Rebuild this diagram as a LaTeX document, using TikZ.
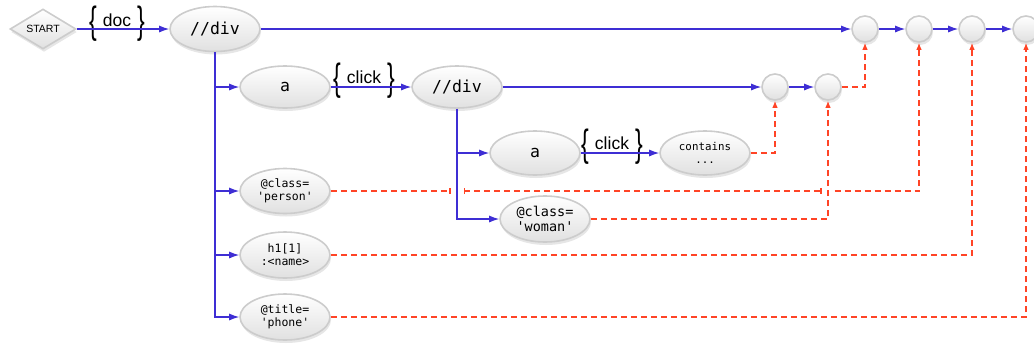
\documentclass[tikz,border=0pt]{standalone}
\usepackage{fontspec}
\setmainfont{Liberation Sans}
\setmonofont{DejaVu Sans Mono}
\usetikzlibrary{arrows.meta,shapes.geometric,shadows,calc}
\definecolor{flowblue}{RGB}{62,46,212}
\definecolor{matchred}{RGB}{255,68,38}
\newcommand{\bracelbl}[1]{\scalebox{1}[1.65]{\fontsize{23}{23}\selectfont\{}\hspace{6pt}\raisebox{7pt}{#1}\hspace{6pt}\scalebox{1}[1.65]{\fontsize{23}{23}\selectfont\}}}

\begin{document}
\begin{tikzpicture}
  [x=1pt,y=-1pt,
   box/.style={top color=white,bottom color=gray!24,draw=gray!40,line width=1.6pt,
     drop shadow={opacity=.2,shadow xshift=1pt,shadow yshift=-3pt},inner sep=0pt},
   oval/.style={box,ellipse,minimum width=90pt,minimum height=44pt,align=center},
   bigtt/.style={font=\ttfamily\fontsize{16.5}{18}\selectfont},
   smalltt/.style={font=\ttfamily\fontsize{11.5}{13}\selectfont},
   dot/.style={box,circle,minimum size=26pt},
   lbl/.style={inner sep=0pt,font=\fontsize{17.5}{19}\selectfont},
   flow/.style={flowblue,line width=1.2pt,-{Latex[length=10pt,width=7pt]}},
   match/.style={matchred,line width=1.2pt,dash pattern=on 6pt off 4pt,-{Latex[length=7pt,width=5.5pt]}},
   hop/.tip={Bar[width=6pt]}]
\useasboundingbox (0,0) rectangle (1034,354);

\node (st)[box,diamond,aspect=1.65,minimum width=66pt,minimum height=40pt,font=\fontsize{10.5}{12}\selectfont] at (43,29) {START};
\node (n1)[oval,bigtt,minimum height=45pt] at (215,29) {//div};
\node (a1)[oval,bigtt,minimum height=42pt] at (285,87) {a};
\node (n2)[oval,bigtt,minimum height=42pt] at (457,87) {//div};
\node (a2)[oval,bigtt] at (535,153) {a};
\node (co)[oval,font=\ttfamily\fontsize{10.8}{13}\selectfont] at (705,153) {contains\\...};
\node (pe)[oval,smalltt,minimum height=45pt] at (285,191) {@class=\\'person'};
\node (wo)[oval,font=\ttfamily\fontsize{13.5}{15}\selectfont,minimum height=46pt] at (545,219) {@class=\\'woman'};
\node (h1)[oval,smalltt,minimum height=46pt] at (285,255) {h1[1]\\:<name>};
\node (ti)[oval,smalltt,minimum height=46pt] at (285,317) {@title=\\'phone'};

\node (c1)[dot] at (865,29) {};
\node (c2)[dot] at (919,29) {};
\node (c3)[dot] at (972,29) {};
\node (c4)[dot] at (1026,29) {};
\node (d1)[dot] at (775,87) {};
\node (d2)[dot] at (828,87) {};

\node (l1)[lbl] at (117,24) {\bracelbl{doc}};
\node (l2)[lbl] at (364,81) {\bracelbl{click}};
\node (l3)[lbl] at (612,147) {\bracelbl{click}};

% blue flow
\foreach \from/\to in {st/n1,n1/c1,c1/c2,c2/c3,c3/c4,a1/n2,n2/d1,d1/d2,a2/co}
  \draw[flow] (\from) -- (\to);
\foreach \to in {a1,pe,h1,ti}
  \draw[flow] (n1.south) |- (\to.west);
\foreach \to in {a2,wo}
  \draw[flow] (n2.south) |- (\to.west);

% red matches
\foreach \from/\to in {d2/c1,co/d1,wo/d2,h1/c3,ti/c4}
  \draw[match] (\from.east) -| (\to.south);
\draw[match,-hop] (pe.east) -- ($(pe.east -| n2.south)+(-6.5,0)$);
\draw[match,hop-hop] ($(pe.east -| n2.south)+(6.5,0)$) -- ($(pe.east -| d2.south)+(-6.5,0)$);
\draw[match] ($(pe.east -| d2.south)+(6.5,0)$) -| (c2.south);
\end{tikzpicture}
\end{document}
